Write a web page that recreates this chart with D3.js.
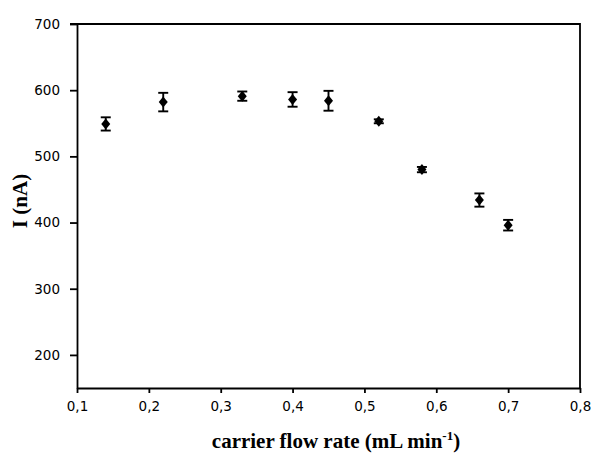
<!DOCTYPE html>
<html>
<head>
<meta charset="utf-8">
<script src="https://cdn.jsdelivr.net/npm/d3@7"></script>
<style>
  body { margin: 0; background: #fff; }
  svg { display: block; }
</style>
</head>
<body>
<svg id="chart"></svg>
<script>
// flow rate (mL/min), current (nA), error (nA)
var flowRates = [0.14, 0.22, 0.33, 0.40, 0.45, 0.52, 0.58, 0.66, 0.70];
var currents  = [549, 582, 591, 586, 584, 553, 480, 434, 396];
var errors    = [10, 14, 7, 11, 15, 3, 4, 10, 8];
var xTicks = [0.1, 0.2, 0.3, 0.4, 0.5, 0.6, 0.7, 0.8];
var yTicks = [200, 300, 400, 500, 600, 700];

var W = 591, H = 456;
var margin = { top: 24, right: 11, bottom: 68, left: 77 },
  width = W - margin.left - margin.right,
  height = H - margin.top - margin.bottom;

var svg = d3.select("#chart")
  .attr("width", W)
  .attr("height", H);

var g = svg.append("g")
  .attr("transform", "translate(" + margin.left + "," + margin.top + ")");

var x = d3.scaleLinear().domain([0.1, 0.8]).range([0, width]);
var y = d3.scaleLinear().domain([150, 700]).range([height, 0]);

var fmt = function(d) { return d3.format(".1f")(d).replace(".", ","); };

// frame (top + right)
g.append("path")
  .attr("d", "M-7,0H" + width + "V" + height)
  .attr("fill", "none")
  .attr("stroke", "#000")
  .attr("stroke-width", 1.8);

var xAxis = g.append("g")
  .attr("transform", "translate(0," + height + ")")
  .call(d3.axisBottom(x).tickValues(xTicks).tickFormat(fmt).tickSize(5).tickSizeOuter(0).tickPadding(8));

var yAxis = g.append("g")
  .call(d3.axisLeft(y).tickValues(yTicks).tickSize(7).tickSizeOuter(0).tickPadding(10));

[xAxis, yAxis].forEach(function(a) {
  a.select(".domain").attr("stroke-width", 1.8);
  a.selectAll(".tick line").attr("stroke-width", 1.8);
  a.selectAll("text")
    .attr("font-family", "'DejaVu Sans', sans-serif")
    .attr("font-size", 13.5)
    .attr("fill", "#000");
});

var data = flowRates.map(function(f, i) {
  return { x: f, y: currents[i], e: errors[i] };
});

// error bars
var capW = 5;
var eb = g.selectAll(".err").data(data).enter().append("g").attr("class", "err")
  .attr("stroke", "#000").attr("stroke-width", 1.9);
eb.append("line")
  .attr("x1", function(d) { return x(d.x); })
  .attr("x2", function(d) { return x(d.x); })
  .attr("y1", function(d) { return y(d.y + d.e); })
  .attr("y2", function(d) { return y(d.y - d.e); });
eb.append("line")
  .attr("x1", function(d) { return x(d.x) - capW; })
  .attr("x2", function(d) { return x(d.x) + capW; })
  .attr("y1", function(d) { return y(d.y + d.e); })
  .attr("y2", function(d) { return y(d.y + d.e); });
eb.append("line")
  .attr("x1", function(d) { return x(d.x) - capW; })
  .attr("x2", function(d) { return x(d.x) + capW; })
  .attr("y1", function(d) { return y(d.y - d.e); })
  .attr("y2", function(d) { return y(d.y - d.e); });

// diamond markers
g.selectAll(".pt").data(data).enter().append("path")
  .attr("class", "pt")
  .attr("d", "M0,-5.5L4.5,0L0,5.5L-4.5,0Z")
  .attr("transform", function(d) { return "translate(" + x(d.x) + "," + y(d.y) + ")"; })
  .attr("fill", "#000");

// axis titles
var xt = svg.append("text")
  .attr("x", 336)
  .attr("y", 448)
  .attr("text-anchor", "middle")
  .attr("font-family", "'Liberation Serif', 'Times New Roman', serif")
  .attr("font-weight", "bold")
  .attr("font-size", 21)
  .attr("fill", "#000");
xt.append("tspan").text("carrier flow rate (mL min");
xt.append("tspan").attr("dy", -8).attr("font-size", 13).text("-1");
xt.append("tspan").attr("dy", 8).text(")");

svg.append("text")
  .attr("transform", "translate(27," + 201 + ") rotate(-90)")
  .attr("text-anchor", "middle")
  .attr("font-family", "'Liberation Serif', 'Times New Roman', serif")
  .attr("font-weight", "bold")
  .attr("font-size", 21)
  .attr("fill", "#000")
  .text("I (nA)");
</script>
</body>
</html>
